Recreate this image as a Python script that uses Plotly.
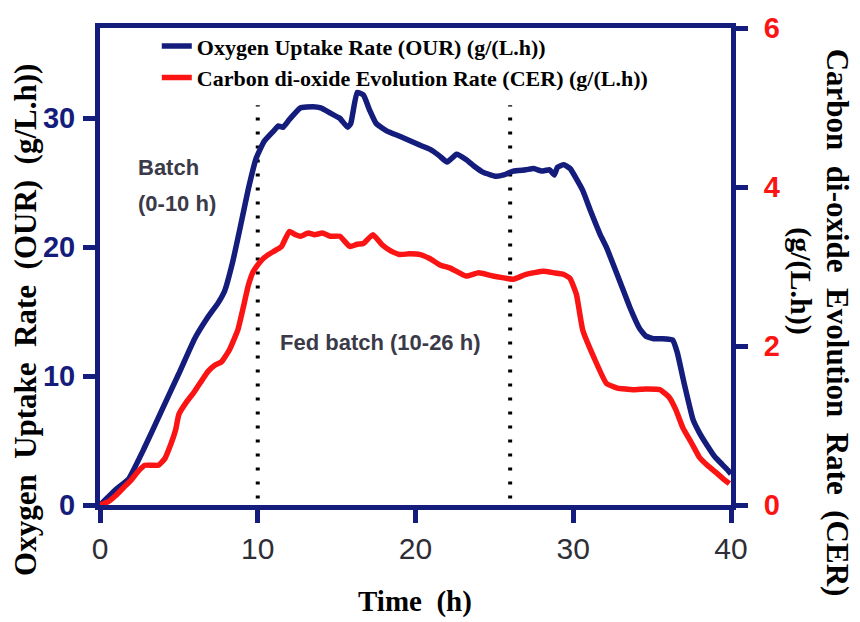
import plotly.graph_objects as go

# ---------------- data ----------------
time_our = [0, 0.5, 1.0, 1.8, 2.8, 3.9, 5.0, 6.0, 6.8, 7.5, 7.9, 8.4, 8.9, 9.4, 9.9,
            10.4, 11.0, 11.3, 11.6, 12.0, 12.7, 13.5, 14.0, 14.6, 15.2, 15.7, 15.9,
            16.3, 16.7, 17.1, 17.5, 18.2, 19.0, 20.3, 20.9, 21.5, 22.0, 22.6, 23.2,
            23.7, 24.3, 25.1, 25.6, 26.2, 27.0, 27.5, 28.0, 28.5, 28.8, 29.0, 29.4,
            29.8, 30.2, 30.6, 31.1, 31.7, 32.1, 33.0, 33.6, 34.2, 34.6, 35.1, 35.6,
            36.3, 36.6, 37.0, 37.6, 38.0, 38.5, 39.0, 39.4, 39.8, 40.0]
our_values = [0, 0.6, 1.2, 2.0, 4.4, 7.3, 10.2, 12.9, 14.5, 15.7, 16.6, 18.8, 21.6, 24.5, 26.9,
              28.2, 29.0, 29.4, 29.3, 29.9, 30.8, 30.9, 30.8, 30.4, 30.0, 29.3, 29.6,
              32.0, 31.8, 30.6, 29.6, 29.0, 28.6, 27.9, 27.6, 27.1, 26.6, 27.2, 26.8,
              26.3, 25.8, 25.5, 25.6, 25.9, 26.0, 26.1, 25.9, 26.0, 25.6, 26.2, 26.4,
              26.1, 25.3, 24.4, 22.8, 21.0, 20.0, 17.2, 15.3, 13.7, 13.1, 12.9, 12.9,
              12.8, 11.8, 9.6, 6.6, 5.6, 4.6, 3.7, 3.2, 2.7, 2.4]

time_cer = [0, 0.5, 1.0, 1.5, 2.0, 2.4, 2.85, 3.3, 3.7, 4.1, 4.5, 4.8, 5.0, 5.5, 6.0, 6.5,
            6.85, 7.3, 7.7, 8.2, 8.75, 9.1, 9.4, 9.7, 10.0, 10.25, 10.6, 11.1, 11.5, 12.0,
            12.4, 12.7, 13.2, 13.6, 14.1, 14.6, 15.2, 15.85, 16.3, 16.7, 17.3, 17.9, 18.4,
            19.0, 19.6, 20.3, 20.9, 21.55, 22.2, 23.2, 24.0, 24.9, 25.5, 26.2, 27.0, 28.1,
            28.8, 29.4, 29.8, 30.2, 30.6, 31.3, 32.1, 32.8, 33.8, 34.6, 35.5, 36.1, 36.5,
            36.95, 37.5, 38.0, 38.5, 39.1, 39.5, 39.9]
cer_values = [0, 0.04, 0.12, 0.22, 0.32, 0.42, 0.5, 0.5, 0.5, 0.58, 0.77, 0.95, 1.14, 1.3,
              1.43, 1.58, 1.68, 1.76, 1.80, 1.95, 2.21, 2.50, 2.76, 2.93, 3.02, 3.08, 3.14,
              3.2, 3.25, 3.44, 3.40, 3.38, 3.42, 3.40, 3.42, 3.38, 3.38, 3.25, 3.28, 3.29,
              3.40, 3.27, 3.2, 3.15, 3.16, 3.15, 3.10, 3.02, 2.98, 2.88, 2.92, 2.88, 2.86,
              2.84, 2.9, 2.94, 2.92, 2.90, 2.85, 2.65, 2.2, 1.86, 1.53, 1.47, 1.45, 1.46,
              1.45, 1.35, 1.2, 0.97, 0.78, 0.6, 0.5, 0.4, 0.33, 0.27]

phase_boundaries = [10, 26]
boundary_span = [0.5, 31.0]

x_ticks = [0, 10, 20, 30, 40]
our_ticks = [0, 10, 20, 30]
cer_ticks = [0, 2, 4, 6]

our_name = "Oxygen Uptake Rate (OUR) (g/(L.h))"
cer_name = "Carbon di-oxide Evolution Rate (CER) (g/(L.h))"

# ---------------- styling ----------------
NAVY = "#141c7c"
RED = "#fa1414"
GRAY = "#3a3a48"
SERIF = "Liberation Serif, Times New Roman, serif"
SANS = "Liberation Sans, Arial, sans-serif"
SP = "\u00a0"

fig = go.Figure()
fig.add_trace(go.Scatter(x=time_our, y=our_values, mode="lines", name=our_name,
                         line=dict(color=NAVY, width=5.5, shape="spline", smoothing=0.4),
                         yaxis="y"))
fig.add_trace(go.Scatter(x=time_cer, y=cer_values, mode="lines", name=cer_name,
                         line=dict(color=RED, width=5.5, shape="spline", smoothing=0.4),
                         yaxis="y2"))

for b in phase_boundaries:
    fig.add_shape(type="line", xref="x", yref="y", x0=b, x1=b,
                  y0=boundary_span[0], y1=boundary_span[1],
                  line=dict(color="black", width=4, dash="3px,11px"), layer="below")

annos = [
    dict(text="Batch", x=2.3, y=26.2, xanchor="left"),
    dict(text="(0-10 h)", x=2.3, y=23.4, xanchor="left"),
    dict(text="Fed batch (10-26 h)", x=11.3, y=12.6, xanchor="left"),
]
for a in annos:
    fig.add_annotation(text=a["text"], x=a["x"], y=a["y"], xref="x", yref="y",
                       xanchor=a["xanchor"], yanchor="middle", showarrow=False,
                       font=dict(family=SANS, size=22, color=GRAY, weight="bold"))

# axis titles
fig.add_annotation(text=(SP * 2).join(["Oxygen", "Uptake", "Rate", "(OUR)", "(g/L.h))"]),
                   xref="paper", yref="paper", x=-0.118, y=0.387, textangle=-90,
                   showarrow=False, xanchor="center", yanchor="middle",
                   font=dict(family=SERIF, size=31, color="black", weight="bold"))
fig.add_annotation(text=(SP * 2).join(["Carbon", "di-oxide", "Evolution", "Rate", "(CER)"]),
                   xref="paper", yref="paper", x=1.169, y=0.383, textangle=90,
                   showarrow=False, xanchor="center", yanchor="middle",
                   font=dict(family=SERIF, size=31, color="black", weight="bold"))
fig.add_annotation(text="(g/(L.h))",
                   xref="paper", yref="paper", x=1.112, y=0.470, textangle=90,
                   showarrow=False, xanchor="center", yanchor="middle",
                   font=dict(family=SERIF, size=30, color="black", weight="bold"))
fig.add_annotation(text="Time" + SP * 2 + "(h)",
                   xref="paper", yref="paper", x=0.499, y=-0.203,
                   showarrow=False, xanchor="center", yanchor="middle",
                   font=dict(family=SERIF, size=29, color="black", weight="bold"))

fig.update_layout(
    width=860, height=622,
    margin=dict(l=100, r=129, t=22, b=117),
    paper_bgcolor="white", plot_bgcolor="white",
    showlegend=True,
    legend=dict(x=0.09, y=1.006, xanchor="left", yanchor="top",
                bgcolor="rgba(0,0,0,0)", borderwidth=0, tracegroupgap=0,
                font=dict(family=SERIF, size=22, color="black", weight="bold")),
    xaxis=dict(range=[0, 40], tickvals=x_ticks, showgrid=False, zeroline=False,
               showline=True, linecolor=NAVY, linewidth=5, mirror=True,
               ticks="outside", ticklen=13, tickwidth=5, tickcolor=NAVY,
               ticklabelstandoff=0,
               tickfont=dict(family=SANS, size=30, color="#2e2e36")),
    yaxis=dict(range=[0, 37], tickvals=our_ticks, showgrid=False, zeroline=False,
               showline=True, linecolor=NAVY, linewidth=5,
               ticks="outside", ticklen=12, tickwidth=5, tickcolor=NAVY,
               ticklabelstandoff=2,
               tickfont=dict(family=SANS, size=29, color=NAVY, weight="bold")),
    yaxis2=dict(range=[0, 6], tickvals=cer_ticks, overlaying="y", side="right",
                showgrid=False, zeroline=False,
                showline=True, linecolor=NAVY, linewidth=5,
                ticks="outside", ticklen=12, tickwidth=5, tickcolor=NAVY,
                ticklabelstandoff=10,
                tickfont=dict(family=SANS, size=29, color=RED, weight="bold")),
)

fig.write_html("out.html")
